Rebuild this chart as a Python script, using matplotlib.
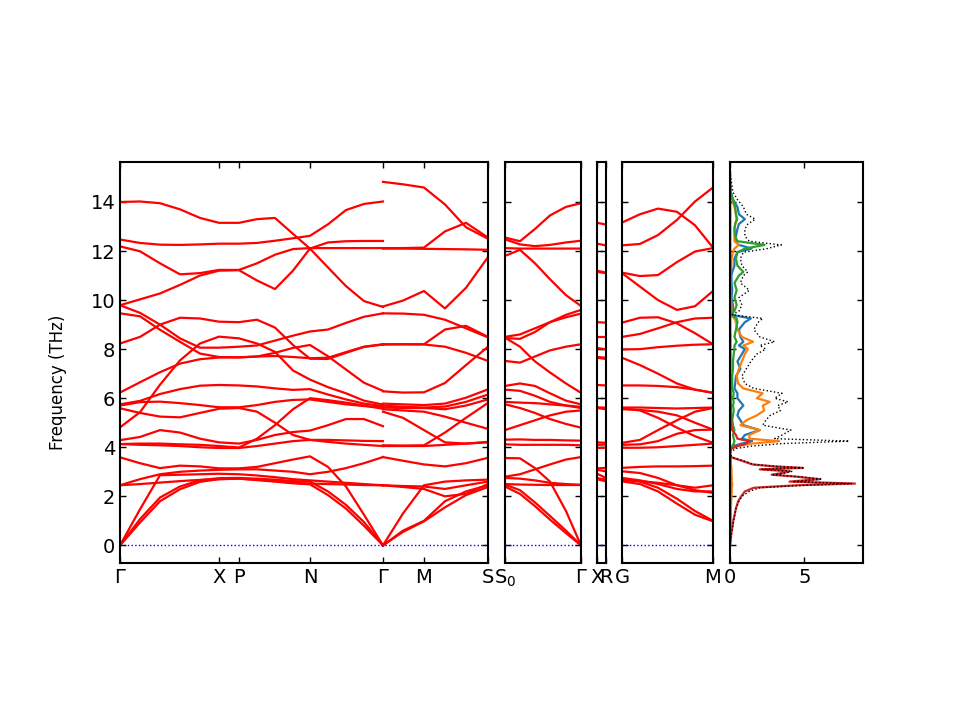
import numpy as np
import matplotlib
matplotlib.use('Agg')
import matplotlib.pyplot as plt

# ---- path 1: G-X-P-N-G (distances) ----
path1_x = [0.0, 0.2, 0.4, 0.6, 0.8, 0.99, 1.19, 1.37, 1.55, 1.73, 1.90, 2.08, 2.26, 2.44, 2.63]
bands1 = [
    [14.0, 14.02, 13.95, 13.7, 13.35, 13.15, 13.15, 13.3, 13.35, 12.7, 12.1, 11.33, 10.57, 9.96, 9.72],
    [12.47, 12.33, 12.26, 12.25, 12.27, 12.3, 12.3, 12.33, 12.42, 12.52, 12.62, 13.09, 13.67, 13.92, 14.02],
    [12.19, 11.99, 11.5, 11.05, 11.1, 11.23, 11.23, 11.5, 11.85, 12.08, 12.12, 12.12, 12.12, 12.12, 12.12],
    [9.79, 10.03, 10.27, 10.62, 11.0, 11.2, 11.22, 10.8, 10.45, 11.2, 12.1, 12.35, 12.4, 12.41, 12.41],
    [9.79, 9.48, 9.0, 8.44, 8.06, 8.06, 8.1, 8.15, 8.35, 8.55, 8.72, 8.8, 9.07, 9.32, 9.46],
    [9.46, 9.34, 8.79, 8.3, 7.82, 7.68, 7.66, 7.7, 7.85, 8.05, 8.17, 7.71, 7.17, 6.63, 6.3],
    [8.23, 8.5, 9.0, 9.28, 9.25, 9.12, 9.1, 9.2, 8.88, 8.17, 7.61, 7.6, 7.85, 8.09, 8.19],
    [6.23, 6.65, 7.06, 7.41, 7.59, 7.66, 7.67, 7.7, 7.72, 7.68, 7.63, 7.65, 7.88, 8.1, 8.2],
    [4.81, 5.43, 6.55, 7.54, 8.23, 8.51, 8.44, 8.23, 7.89, 7.13, 6.76, 6.45, 6.2, 5.9, 5.74],
    [5.75, 5.89, 6.17, 6.37, 6.51, 6.54, 6.52, 6.48, 6.4, 6.34, 6.37, 6.15, 5.95, 5.78, 5.68],
    [5.7, 5.84, 5.86, 5.8, 5.72, 5.63, 5.63, 5.72, 5.85, 5.93, 5.95, 5.85, 5.75, 5.68, 5.62],
    [5.59, 5.4, 5.25, 5.22, 5.4, 5.57, 5.6, 5.45, 5.0, 4.5, 4.3, 4.3, 4.28, 4.26, 4.25],
    [4.29, 4.42, 4.7, 4.6, 4.35, 4.2, 4.15, 4.3, 4.5, 4.62, 4.68, 4.9, 5.15, 5.15, 4.86],
    [4.13, 4.15, 4.15, 4.12, 4.1, 4.05, 3.99, 4.35, 4.9, 5.55, 6.0, 5.92, 5.82, 5.7, 5.57],
    [4.13, 4.1, 4.08, 4.05, 4.0, 3.97, 3.97, 4.05, 4.15, 4.25, 4.3, 4.22, 4.15, 4.1, 4.05],
    [3.59, 3.35, 3.15, 3.25, 3.22, 3.14, 3.14, 3.2, 3.35, 3.5, 3.63, 3.2, 2.4, 1.25, 0.0],
    [2.45, 2.7, 2.9, 3.0, 3.05, 3.08, 3.1, 3.1, 3.05, 3.0, 2.9, 3.0, 3.15, 3.35, 3.6],
    [2.45, 2.5, 2.56, 2.62, 2.67, 2.7, 2.72, 2.68, 2.62, 2.55, 2.52, 2.5, 2.48, 2.46, 2.45],
    [0.0, 1.47, 2.86, 2.88, 2.9, 2.92, 2.9, 2.85, 2.78, 2.7, 2.65, 2.6, 2.55, 2.5, 2.45],
    [0.0, 1.07, 1.95, 2.4, 2.66, 2.74, 2.75, 2.72, 2.68, 2.62, 2.6, 2.2, 1.65, 0.95, 0.0],
    [0.0, 0.93, 1.8, 2.29, 2.59, 2.7, 2.72, 2.66, 2.6, 2.53, 2.49, 2.05, 1.5, 0.8, 0.0],
]

# ---- path 2: G-M-S ----
path2_x = [2.63, 2.83, 3.04, 3.25, 3.46, 3.68]
bands2 = [
    [14.82, 14.72, 14.59, 13.9, 12.97, 12.5],
    [12.12, 12.12, 12.14, 12.8, 13.15, 12.55],
    [12.1, 12.1, 12.09, 12.08, 12.07, 12.05],
    [9.74, 9.98, 10.37, 9.66, 10.5, 11.75],
    [9.46, 9.45, 9.4, 9.2, 8.85, 8.48],
    [8.19, 8.2, 8.2, 8.8, 8.95, 8.5],
    [8.2, 8.2, 8.19, 8.1, 7.85, 7.52],
    [6.28, 6.23, 6.24, 6.62, 7.35, 8.1],
    [5.78, 5.75, 5.72, 5.78, 6.02, 6.36],
    [5.7, 5.65, 5.62, 5.66, 5.85, 6.15],
    [5.62, 5.6, 5.6, 5.55, 5.7, 5.95],
    [5.55, 5.5, 5.45, 5.25, 5.0, 4.75],
    [5.45, 5.2, 4.7, 4.2, 4.15, 4.2],
    [4.08, 4.07, 4.08, 4.6, 5.2, 5.81],
    [4.05, 4.05, 4.05, 4.1, 4.15, 4.22],
    [3.6, 3.45, 3.3, 3.22, 3.35, 3.57],
    [2.45, 2.38, 2.3, 2.0, 2.1, 2.5],
    [2.45, 2.42, 2.4, 2.3, 2.45, 2.6],
    [0.0, 1.3, 2.45, 2.6, 2.65, 2.68],
    [0.0, 0.6, 1.0, 1.8, 2.2, 2.45],
    [0.0, 0.55, 0.98, 1.55, 2.05, 2.38],
]

# ---- path 3: S0-G ----
path3_x = [0.0, 0.15, 0.30, 0.45, 0.61, 0.76]
bands3 = [
    [12.55, 12.4, 12.9, 13.45, 13.8, 13.95],
    [12.48, 12.27, 12.2, 12.25, 12.35, 12.42],
    [12.12, 12.1, 12.1, 12.1, 12.1, 12.1],
    [11.8, 12.05, 11.5, 10.85, 10.2, 9.76],
    [8.45, 8.42, 8.7, 9.1, 9.4, 9.6],
    [8.5, 8.6, 8.85, 9.1, 9.3, 9.45],
    [8.47, 8.1, 7.5, 7.05, 6.6, 6.22],
    [7.52, 7.45, 7.7, 7.95, 8.1, 8.2],
    [6.5, 6.6, 6.5, 6.2, 5.9, 5.75],
    [6.35, 6.3, 6.1, 5.85, 5.7, 5.65],
    [5.85, 5.82, 5.8, 5.75, 5.7, 5.6],
    [5.75, 5.6, 5.4, 5.15, 4.95, 4.8],
    [4.7, 4.9, 5.1, 5.3, 5.45, 5.5],
    [4.31, 4.32, 4.3, 4.3, 4.28, 4.27],
    [4.12, 4.1, 4.1, 4.1, 4.1, 4.08],
    [3.56, 3.55, 3.15, 2.6, 1.4, 0.0],
    [2.8, 2.9, 3.1, 3.3, 3.5, 3.6],
    [2.75, 2.72, 2.65, 2.55, 2.5, 2.47],
    [2.5, 2.48, 2.47, 2.46, 2.46, 2.46],
    [2.48, 2.25, 1.75, 1.2, 0.6, 0.0],
    [2.4, 2.1, 1.6, 1.05, 0.5, 0.0],
]

# ---- path 4: X-R ----
path4_x = [0.0, 0.09]
bands4_X = [13.15, 12.3, 11.2, 11.15, 9.1, 8.5, 8.05, 7.68, 7.65, 6.54, 5.63,
            5.6, 4.2, 4.1, 3.97, 3.14, 3.08, 2.92, 2.74, 2.72, 2.7]
bands4_R = [13.08, 12.23, 11.12, 11.1, 9.08, 8.5, 7.99, 7.65, 7.6, 6.52, 5.61,
            5.55, 4.18, 4.11, 3.98, 3.16, 3.02, 2.75, 2.68, 2.65, 2.61]

# ---- path 5: G-M ----
path5_x = [0.0, 0.18, 0.36, 0.55, 0.73, 0.91]
bands5 = [
    [13.16, 13.5, 13.73, 13.6, 13.05, 12.14],
    [12.23, 12.29, 12.65, 13.27, 14.02, 14.59],
    [11.12, 10.98, 11.02, 11.55, 11.98, 12.12],
    [11.1, 10.55, 10.0, 9.6, 9.75, 10.37],
    [9.08, 9.28, 9.3, 9.05, 8.65, 8.2],
    [8.5, 8.62, 8.85, 9.1, 9.25, 9.28],
    [7.99, 8.0, 8.08, 8.14, 8.18, 8.2],
    [7.65, 7.35, 7.0, 6.6, 6.35, 6.22],
    [6.52, 6.52, 6.5, 6.45, 6.35, 6.22],
    [5.62, 5.62, 5.6, 5.58, 5.6, 5.62],
    [5.6, 5.5, 5.2, 4.8, 4.45, 4.18],
    [5.55, 5.52, 5.45, 5.3, 5.0, 4.72],
    [4.18, 4.3, 4.7, 5.1, 5.45, 5.6],
    [4.1, 4.12, 4.25, 4.55, 4.7, 4.72],
    [3.98, 3.98, 4.0, 4.05, 4.1, 4.15],
    [3.16, 3.2, 3.22, 3.22, 3.23, 3.25],
    [3.02, 2.95, 2.75, 2.45, 2.25, 2.14],
    [2.75, 2.65, 2.5, 2.3, 2.2, 2.2],
    [2.61, 2.5, 2.2, 1.7, 1.25, 0.98],
    [2.68, 2.6, 2.35, 1.9, 1.4, 1.0],
    [2.65, 2.62, 2.55, 2.45, 2.35, 2.45],
]

# ---- DOS ----
dos_freq = [0.0, 0.5, 1.0, 1.5, 1.8, 2.0, 2.2, 2.35, 2.45, 2.52, 2.6, 2.7, 2.8, 2.88, 2.95,
            3.02, 3.1, 3.16, 3.22, 3.3, 3.45, 3.6, 3.8, 3.95, 4.05, 4.15, 4.25, 4.35, 4.5,
            4.7, 4.9, 5.1, 5.3, 5.5, 5.7, 5.85, 6.0, 6.2, 6.4, 6.6, 6.9, 7.2, 7.5, 7.8,
            8.0, 8.15, 8.3, 8.5, 8.8, 9.1, 9.25, 9.4, 9.55, 9.8, 10.1, 10.4, 10.7, 11.0,
            11.15, 11.4, 11.7, 11.95, 12.1, 12.25, 12.4, 12.6, 12.9, 13.1, 13.3, 13.5,
            13.8, 14.1, 14.4, 14.8, 15.2]
dos_total = [0.0, 0.1, 0.25, 0.4, 0.6, 0.8, 1.3, 2.0, 5.0, 8.2, 4.2, 6.2, 4.6, 2.9, 3.7,
             4.2, 2.1, 5.0, 3.1, 1.6, 0.9, 0.1, 0.05, 0.4, 1.5, 3.5, 8.0, 3.0, 3.5,
             4.1, 2.2, 2.4, 2.7, 3.4, 3.2, 3.9, 3.0, 3.5, 1.6, 1.0, 0.8, 1.1, 1.4, 1.8,
             2.4, 2.0, 3.0, 2.0, 1.6, 1.9, 2.2, 0.15, 0.6, 0.8, 0.6, 1.3, 0.7, 0.9,
             1.2, 0.8, 0.7, 0.9, 2.5, 3.45, 1.3, 1.0, 1.0, 1.2, 1.7, 1.1,
             0.9, 0.5, 0.2, 0.1, 0.0]
dos_red = [0.0, 0.1, 0.22, 0.4, 0.55, 0.75, 1.0, 1.6, 4.5, 8.4, 4.0, 6.0, 4.5, 2.8, 3.5,
           4.0, 2.0, 4.9, 3.0, 1.5, 0.8, 0.05, 0.0, 0.1, 0.5, 1.1, 1.3, 0.5, 0.4,
           0.15, 0.1, 0.08, 0.06, 0.06, 0.06, 0.05, 0.05, 0.05, 0.04, 0.04, 0.03, 0.03, 0.03, 0.03,
           0.03, 0.03, 0.03, 0.03, 0.02, 0.02, 0.02, 0.0, 0.02, 0.02, 0.02, 0.02, 0.02, 0.02,
           0.02, 0.02, 0.02, 0.02, 0.02, 0.02, 0.02, 0.02, 0.02, 0.02, 0.02, 0.02,
           0.02, 0.02, 0.02, 0.01, 0.0]
dos_blue = [0.0, 0.01, 0.01, 0.02, 0.02, 0.02, 0.03, 0.03, 0.04, 0.04, 0.04, 0.04, 0.04, 0.04, 0.04,
            0.04, 0.04, 0.04, 0.04, 0.03, 0.03, 0.01, 0.0, 0.05, 0.2, 0.8, 1.5, 0.8, 1.0,
            2.0, 0.9, 0.7, 0.5, 0.6, 0.9, 0.7, 0.5, 0.5, 0.3, 0.35, 0.4, 0.7, 0.5, 0.8,
            1.0, 0.6, 0.9, 0.7, 0.6, 1.0, 1.4, 0.1, 0.2, 0.2, 0.1, 0.15, 0.1, 0.1,
            0.15, 0.3, 0.3, 0.5, 1.45, 0.6, 0.35, 0.4, 0.5, 0.6, 1.0, 0.6,
            0.5, 0.2, 0.05, 0.0, 0.0]
dos_orange = [0.0, 0.02, 0.04, 0.06, 0.08, 0.1, 0.12, 0.12, 0.15, 0.15, 0.12, 0.12, 0.12, 0.1, 0.1,
              0.1, 0.1, 0.1, 0.08, 0.06, 0.05, 0.02, 0.0, 0.1, 0.5, 1.5, 3.3, 1.3, 1.3,
              2.0, 0.7, 1.1, 1.8, 2.3, 2.2, 2.67, 1.8, 2.2, 0.9, 0.55, 0.45, 0.6, 0.8, 1.0,
              1.2, 0.9, 1.55, 0.8, 0.5, 0.4, 0.3, 0.05, 0.1, 0.1, 0.05, 0.05, 0.05, 0.05,
              0.05, 0.1, 0.1, 0.2, 0.3, 0.6, 0.3, 0.3, 0.3, 0.35, 0.5, 0.4,
              0.3, 0.15, 0.05, 0.0, 0.0]
dos_green = [0.0, 0.01, 0.01, 0.01, 0.02, 0.02, 0.02, 0.02, 0.02, 0.02, 0.02, 0.02, 0.02, 0.02, 0.02,
             0.02, 0.02, 0.02, 0.02, 0.02, 0.02, 0.01, 0.0, 0.05, 0.15, 0.25, 0.3, 0.25, 0.2,
             0.3, 0.2, 0.15, 0.2, 0.25, 0.2, 0.25, 0.2, 0.25, 0.15, 0.15, 0.15, 0.2, 0.2, 0.25,
             0.3, 0.3, 0.45, 0.3, 0.4, 0.5, 0.45, 0.05, 0.3, 0.45, 0.3, 0.45, 0.3, 0.6,
             0.9, 0.5, 0.4, 0.5, 1.0, 2.33, 0.5, 0.35, 0.3, 0.35, 0.45, 0.4,
             0.35, 0.2, 0.05, 0.0, 0.0]

labels1 = ['$\\Gamma$', 'X', 'P', 'N', '$\\Gamma$', 'M', 'S']
ticks1 = [0.0, 0.99, 1.19, 1.90, 2.63, 3.04, 3.68]

ymin, ymax = -0.72, 15.63
red = '#ff0000'

fig = plt.figure(figsize=(9.6, 7.2), dpi=100)
bottom, height = 0.218, 0.557
ax1 = fig.add_axes([0.125, bottom, 0.3833, height])
ax2 = fig.add_axes([0.526, bottom, 0.0792, height])
ax3 = fig.add_axes([0.6219, bottom, 0.0094, height])
ax4 = fig.add_axes([0.6479, bottom, 0.0948, height])
ax5 = fig.add_axes([0.7604, bottom, 0.1385, height])

for b in bands1:
    ax1.plot(path1_x, b, color=red, lw=1.6)
for b in bands2:
    ax1.plot(path2_x, b, color=red, lw=1.6)
ax1.plot([0, 3.68], [0, 0], color='b', ls=':', lw=1.0)
ax1.set_xlim(0, 3.68)
ax1.set_xticks(ticks1)
ax1.set_xticklabels(labels1)
ax1.set_ylabel('Frequency (THz)', fontsize=12)
ax1.yaxis.set_label_coords(-0.145, 0.45)

for b in bands3:
    ax2.plot(path3_x, b, color=red, lw=1.6)
ax2.plot([0, 0.76], [0, 0], color='b', ls=':', lw=1.0)
ax2.set_xlim(0, 0.76)
ax2.set_xticks([0, 0.76])
ax2.set_xticklabels(['S$_0$', '$\\Gamma$'])

for bx, br in zip(bands4_X, bands4_R):
    ax3.plot(path4_x, [bx, br], color=red, lw=1.6)
ax3.plot([0, 0.09], [0, 0], color='b', ls=':', lw=1.0)
ax3.set_xlim(0, 0.09)
ax3.set_xticks([0, 0.09])
ax3.set_xticklabels(['X', 'R'])

for b in bands5:
    ax4.plot(path5_x, b, color=red, lw=1.6)
ax4.plot([0, 0.91], [0, 0], color='b', ls=':', lw=1.0)
ax4.set_xlim(0, 0.91)
ax4.set_xticks([0, 0.91])
ax4.set_xticklabels(['G', 'M'])

# partial dos + total
ax5.plot(dos_blue, dos_freq, color='tab:blue', lw=1.6)
ax5.plot(dos_orange, dos_freq, color='tab:orange', lw=1.6)
ax5.plot(dos_green, dos_freq, color='tab:green', lw=1.6)
ax5.plot(dos_red, dos_freq, color='tab:red', lw=1.6)
ax5.plot(dos_total, dos_freq, color='k', ls=':', lw=1.0)
ax5.set_xlim(0, 8.93)
ax5.set_xticks([0, 5])

for ax in [ax1, ax2, ax3, ax4, ax5]:
    ax.set_ylim(ymin, ymax)
    ax.set_yticks(np.arange(0, 15, 2))
    ax.tick_params(direction='in', top=True, right=True, length=4.5, width=1.0,
                   labelsize=14)
    for s in ax.spines.values():
        s.set_linewidth(1.5)
    if ax is not ax1:
        ax.set_yticklabels([])

plt.savefig('out.png', dpi=100)
